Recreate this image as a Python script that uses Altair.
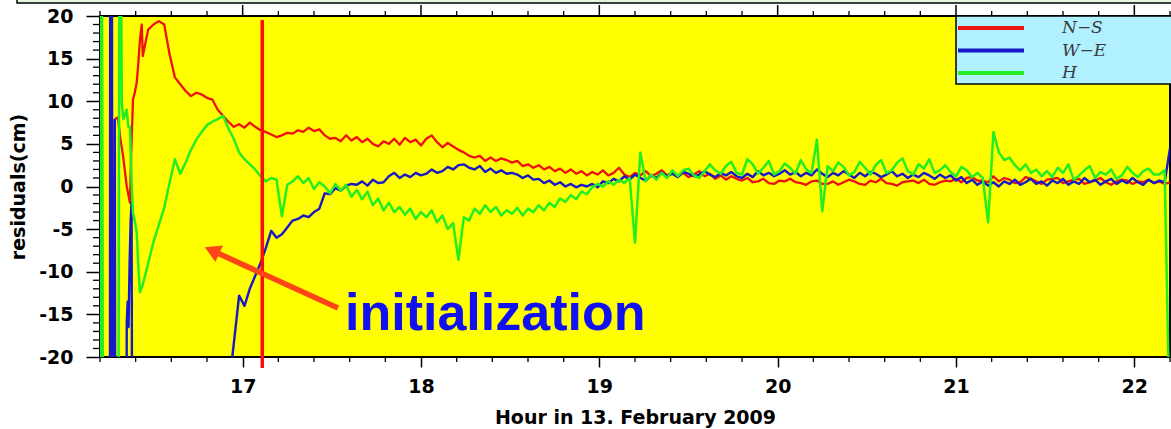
import altair as alt
import pandas as pd
import numpy as np

# ---------------- data (residuals in cm, hours of 13 Feb 2009) ----------------
START = 16.44   # first hour of the regularly sampled part
STEP = 0.03     # sampling step (hours)

# irregular start-up part (values beyond +-20 are off-scale excursions)
ns_early_h = [16.200, 16.204, 16.212, 16.216, 16.270, 16.282, 16.290, 16.300, 16.315,
              16.330, 16.350, 16.368, 16.375, 16.385, 16.395, 16.406, 16.415, 16.424, 16.434]
ns_early_v = [-30, -17.5, -17.5, -30, -30, 7.8, 8.0, 8.1, 5.5,
              3.5, 0.0, -1.9, 4.0, 10.2, 11.0, 12.2, 14.5, 17.2, 19.0]

we_early_h = [16.200, 16.255, 16.258, 16.266, 16.270, 16.278, 16.283, 16.287, 16.345,
              16.350, 16.355, 16.360, 16.366, 16.372, 16.377, 16.383]
we_early_v = [-60, -60, 60, 60, -60, -60, 7.8, -60, -60,
              -16.0, -13.5, -16.5, -9.0, -4.0, -1.8, -60]

h_early_h = [16.200, 16.206, 16.214, 16.218, 16.300, 16.312, 16.322, 16.331, 16.350,
             16.359, 16.368, 16.378, 16.385, 16.395, 16.406, 16.415, 16.424]
h_early_v = [-60, 60, 0.0, -60, -60, 60, 9.8, 7.9, 9.0,
             7.0, 7.0, 0.0, -3.1, -4.0, -5.4, -9.4, -12.4]

# regularly sampled part, 16.44 .. 22.20 every 0.03 h
ns_main = [
    15.3, 18.4, 19.0, 19.4, 19.0, 15.5, 12.8, 12.0, 11.2, 10.6,
    11.0, 10.8, 10.4, 10.2, 9.0, 8.3, 7.6, 7.0, 7.3, 6.9,
    7.5, 7.0, 6.6, 6.4, 6.1, 5.8, 6.0, 6.3, 6.2, 6.6,
    6.4, 6.9, 6.5, 6.7, 6.0, 5.6, 5.7, 5.3, 6.0, 5.4,
    5.8, 5.2, 5.6, 5.0, 4.7, 5.3, 5.0, 5.6, 4.9, 5.7,
    5.2, 5.5, 4.8, 5.6, 6.0, 5.2, 4.6, 5.1, 4.7, 4.3,
    4.0, 3.6, 3.4, 3.6, 3.0, 3.4, 3.0, 3.3, 3.1, 2.8,
    3.0, 2.4, 2.6, 2.2, 2.5, 2.0, 2.3, 1.8, 2.1, 1.6,
    2.0, 1.5, 1.8, 1.3, 1.7, 1.4, 1.9, 1.3, 1.6, 2.2,
    1.4, 1.1, 1.6, 1.3, 1.8, 1.2, 1.5, 1.9, 1.3, 1.7,
    1.2, 1.6, 1.1, 1.4, 1.8, 1.2, 1.5, 0.9, 1.3, 0.8,
    1.2, 0.9, 0.7, 1.0, 0.5, 0.6, 0.9, 0.4, 0.3, 0.7,
    0.6, 0.9, 0.5, 0.4, 0.2, 0.6, 0.7, 0.3, 0.3, 0.6,
    0.2, 0.5, 0.8, 0.6, 0.3, 0.2, 0.7, 0.5, 0.9, 0.4,
    0.3, 0.1, 0.5, 0.6, 0.7, 0.4, 0.8, 0.3, 0.2, 0.5,
    0.7, 0.6, 0.9, 0.5, 1.0, 1.1, 0.7, 0.7, 0.5, 1.2,
    0.6, 1.0, 0.8, 0.4, 0.5, 1.1, 0.9, 0.6, 0.3, 0.8,
    0.9, 1.0, 0.4, 0.6, 0.8, 0.9, 0.3, 0.5, 0.7, 1.0,
    0.5, 0.2, 0.6, 0.8, 0.7, 0.3, 0.6, 0.5, 0.8, 0.4,
    0.6, 0.3, 0.5,
]
we_main = [
    -60, -60, -60, -60, -60, -60, -60, -60, -60, -60,
    -60, -60, -60, -60, -60, -60, -24, -18.5, -12.8, -14.0,
    -12.0, -10.5, -9.0, -7.2, -5.2, -6.0, -5.6, -4.8, -4.0, -3.8,
    -3.4, -3.6, -3.0, -2.6, -0.8, -0.9, -0.2, -0.5, 0.1, 0.3,
    0.2, 0.6, 0.1, 0.8, 0.4, 0.5, 1.2, 1.6, 1.0, 1.4,
    1.1, 1.6, 1.3, 1.5, 2.0, 1.6, 1.8, 2.3, 2.0, 2.5,
    2.6, 2.2, 2.0, 2.4, 1.7, 2.1, 1.6, 1.9, 1.5, 1.6,
    1.4, 1.0, 1.3, 0.8, 0.9, 0.4, 0.7, 0.2, 0.5, 0.0,
    0.3, -0.1, 0.2, 0.0, 0.3, -0.1, 0.6, 0.4, 0.9, 0.6,
    1.2, 0.8, 1.4, 1.0, 0.7, 1.3, 1.0, 1.6, 1.2, 1.5,
    1.1, 1.7, 1.5, 1.2, 1.4, 1.8, 1.4, 1.1, 1.6, 1.3,
    1.7, 1.2, 1.0, 1.5, 1.1, 1.8, 1.3, 1.6, 1.2, 1.5,
    1.9, 1.4, 1.7, 1.2, 1.6, 1.3, 2.0, 1.5, 1.1, 1.6,
    1.3, 1.8, 1.4, 1.0, 1.6, 1.2, 1.7, 1.5, 1.1, 1.4,
    1.8, 1.2, 1.5, 1.0, 1.4, 1.1, 1.6, 1.3, 0.9, 1.4,
    1.0, 1.3, 0.7, 1.1, 0.4, 0.8, 0.2, 0.6, 0.1, 0.5,
    0.0, 0.6, 0.3, 0.8, 0.2, 0.5, 0.9, 0.3, 0.6, 0.1,
    0.7, 0.4, 0.9, 0.2, 0.6, 0.3, 1.0, 0.5, 0.8, 0.2,
    0.6, 0.9, 0.3, 0.7, 0.4, 1.0, 0.5, 0.2, 0.8, 0.4,
    0.7, 0.5, 4.5,
]
h_main = [
    -11.5, -9.0, -6.5, -4.5, -2.5, 0.4, 3.2, 1.5, 2.8, 4.3,
    5.5, 6.4, 7.2, 7.6, 7.9, 8.3, 6.8, 5.6, 4.0, 3.2,
    2.6, 2.0, 1.2, 0.6, 1.0, 0.8, -3.5, 0.2, 0.6, 1.2,
    0.4, 1.0, -0.3, 0.5, 0.0, -0.8, 0.3, -0.5, 0.2, -1.2,
    -0.4, -1.5, -0.6, -2.2, -1.4, -2.8, -1.9, -3.0, -2.4, -3.3,
    -2.6, -3.8, -3.0, -3.6, -2.8, -4.2, -3.4, -5.0, -4.3, -8.6,
    -3.6, -4.0, -2.6, -3.2, -2.2, -3.0, -2.4, -3.4, -2.8, -3.2,
    -2.5, -3.4, -2.6, -3.0, -2.2, -2.8, -1.9, -2.4, -1.4, -1.8,
    -1.0, -1.5, -0.6, -0.9, -0.1, 0.3, 0.0, 0.6, 0.2, 0.8,
    0.4, 1.0, -6.6, 4.0, 0.6, 1.4, 0.8, 1.6, 1.0, 1.9,
    1.2, 1.9, 2.1, 1.3, 1.0, 1.8, 2.6, 1.9, 1.5, 2.4,
    2.9, 1.6, 1.4, 3.2, 2.6, 1.5, 2.2, 3.0, 1.4, 1.8,
    2.7, 2.2, 1.5, 3.1, 2.0, 1.6, 5.5, -2.9, 2.4, 1.8,
    2.8, 2.3, 1.3, 1.7, 2.9, 2.2, 1.4, 2.5, 3.1, 1.6,
    1.9, 2.8, 3.3, 1.8, 1.4, 2.6, 2.1, 3.2, 1.6, 1.9,
    2.5, 1.7, 1.2, 2.3, 1.9, 1.1, 1.6, 1.0, -4.2, 6.4,
    4.0, 3.1, 3.4, 2.5, 1.9, 2.6, 1.6, 2.0, 1.2, 1.8,
    1.1, 2.2, 1.6, 2.6, 0.8, 1.3, 1.9, 2.4, 1.0, 1.7,
    1.4, 2.0, 0.9, 1.3, 2.3, 1.6, 1.1, 1.8, 2.1, 1.4,
    1.4, 1.9, -30,
]

x_ticks = [17, 18, 19, 20, 21, 22]
y_ticks = [-20, -15, -10, -5, 0, 5, 10, 15, 20]
init_marker_hour = 17.11
series_names = ["N\u2212S", "W\u2212E", "H"]
series_colors = ["#ee1111", "#1818c8", "#22ee22"]


def make_df(early_h, early_v, main):
    hours = list(early_h) + [round(START + STEP * i, 3) for i in range(len(main))]
    return pd.DataFrame({"hour": hours, "res": list(early_v) + list(main)})


df_ns = make_df(ns_early_h, ns_early_v, ns_main)
df_we = make_df(we_early_h, we_early_v, we_main)
df_h = make_df(h_early_h, h_early_v, h_main)

W, H = 1070, 341
FONT = "DejaVu Sans"

xscale = alt.Scale(domain=[16.2, 22.2], nice=False, zero=False)
yscale = alt.Scale(domain=[-20, 20], nice=False, zero=False)

xaxis = alt.Axis(values=x_ticks, labelExpr="'' + datum.value", grid=False, domain=False,
                 tickSize=10, tickWidth=1.5, tickColor="black", labelPadding=10,
                 labelFont=FONT, labelFontWeight="bold", labelFontSize=19, labelColor="black",
                 titleFont=FONT, titleFontWeight="bold", titleFontSize=19, titleColor="black",
                 titlePadding=12)
yaxis = alt.Axis(values=y_ticks, labelExpr="'' + datum.value", grid=False, domain=False,
                 tickSize=14, tickWidth=1.5, tickColor="black", labelPadding=13,
                 labelFont=FONT, labelFontWeight="bold", labelFontSize=19, labelColor="black",
                 titleFont=FONT, titleFontWeight="bold", titleFontSize=19, titleColor="black",
                 titlePadding=10)

X = alt.X("hour:Q", scale=xscale, axis=xaxis, title="Hour in 13. February 2009")
Y = alt.Y("res:Q", scale=yscale, axis=yaxis, title="residuals(cm)")


def series_layer(df, color, width):
    return alt.Chart(df).mark_line(color=color, strokeWidth=width, clip=True,
                                   strokeJoin="round").encode(x=X, y=Y)


red = series_layer(df_ns, series_colors[0], 2.3)
blue = series_layer(df_we, series_colors[1], 2.4)
green = series_layer(df_h, series_colors[2], 2.5)

# minor ticks
ymin = pd.DataFrame({"res": [v for v in range(-20, 21) if v % 5 != 0]})
xmin = pd.DataFrame({"hour": [round(16.2 + 0.2 * i, 1) for i in range(31)
                              if abs(16.2 + 0.2 * i - round(16.2 + 0.2 * i)) > 0.01]})
xmaj = pd.DataFrame({"hour": x_ticks})

y_minor = alt.Chart(ymin).mark_rule(color="black", strokeWidth=1.3).encode(
    y=Y, x=alt.value(-7), x2=alt.value(0))
x_minor_b = alt.Chart(xmin).mark_rule(color="black", strokeWidth=1.3).encode(
    x=X, y=alt.value(H), y2=alt.value(H + 5))
x_minor_t = alt.Chart(xmin).mark_rule(color="black", strokeWidth=1.3).encode(
    x=X, y=alt.value(-5), y2=alt.value(0))
x_major_t = alt.Chart(xmaj).mark_rule(color="black", strokeWidth=1.5).encode(
    x=X, y=alt.value(-11), y2=alt.value(0))

one = pd.DataFrame({"a": [0]})

# frame strip at the very top (slide box edge)
strip = alt.Chart(one).mark_rect(fill="#e6f5dc", stroke="black", strokeWidth=1.5, clip=False).encode(
    x=alt.value(-83), x2=alt.value(W + 20), y=alt.value(-40), y2=alt.value(-13))

# legend
leg_box = alt.Chart(one).mark_rect(fill="#b0f0ff", stroke="black", strokeWidth=1.5).encode(
    x=alt.value(856), x2=alt.value(W + 2), y=alt.value(0), y2=alt.value(68))
leg_layers = []
for i, (name, col) in enumerate(zip(series_names, series_colors)):
    yy = 12 + i * 22.5
    leg_layers.append(alt.Chart(one).mark_rule(color=col, strokeWidth=4).encode(
        x=alt.value(858), x2=alt.value(924), y=alt.value(yy)))
    leg_layers.append(alt.Chart(one).mark_text(
        text=name, font="DejaVu Serif", fontStyle="italic", fontSize=17, color="#3a3a3a",
        align="left", baseline="middle").encode(x=alt.value(962), y=alt.value(yy)))

# initialization marker
vline = alt.Chart(pd.DataFrame({"hour": [init_marker_hour]})).mark_rule(
    color="#ff0a0a", strokeWidth=3.5, clip=False).encode(x=X, y=alt.value(4), y2=alt.value(352))

arrow_shaft = alt.Chart(one).mark_rule(color="#ff4418", strokeWidth=5.5, strokeCap="butt").encode(
    x=alt.value(238), x2=alt.value(113), y=alt.value(292), y2=alt.value(235))
arrow_head = alt.Chart(one).mark_point(shape="triangle-up", size=330, filled=True,
                                       color="#ff4418", opacity=1, angle=294.6).encode(
    x=alt.value(112), y=alt.value(234.5))
init_text = alt.Chart(one).mark_text(
    text="initialization", font="Liberation Sans", fontWeight="bold", fontSize=52,
    color="#1010f0", align="left", baseline="alphabetic").encode(
    x=alt.value(245), y=alt.value(314))

chart = alt.layer(
    strip, red, blue, green, y_minor, x_minor_b, x_minor_t, x_major_t,
    leg_box, *leg_layers, vline, arrow_shaft, arrow_head, init_text
).properties(
    width=W, height=H,
    autosize=alt.AutoSizeParams(type="none"),
    padding={"left": 100, "top": 16, "right": 1, "bottom": 72},
    background="white",
).configure_view(
    fill="#ffff00", stroke="black", strokeWidth=2
)

chart.save("out.html", embed_options={"renderer": "svg", "actions": False})
